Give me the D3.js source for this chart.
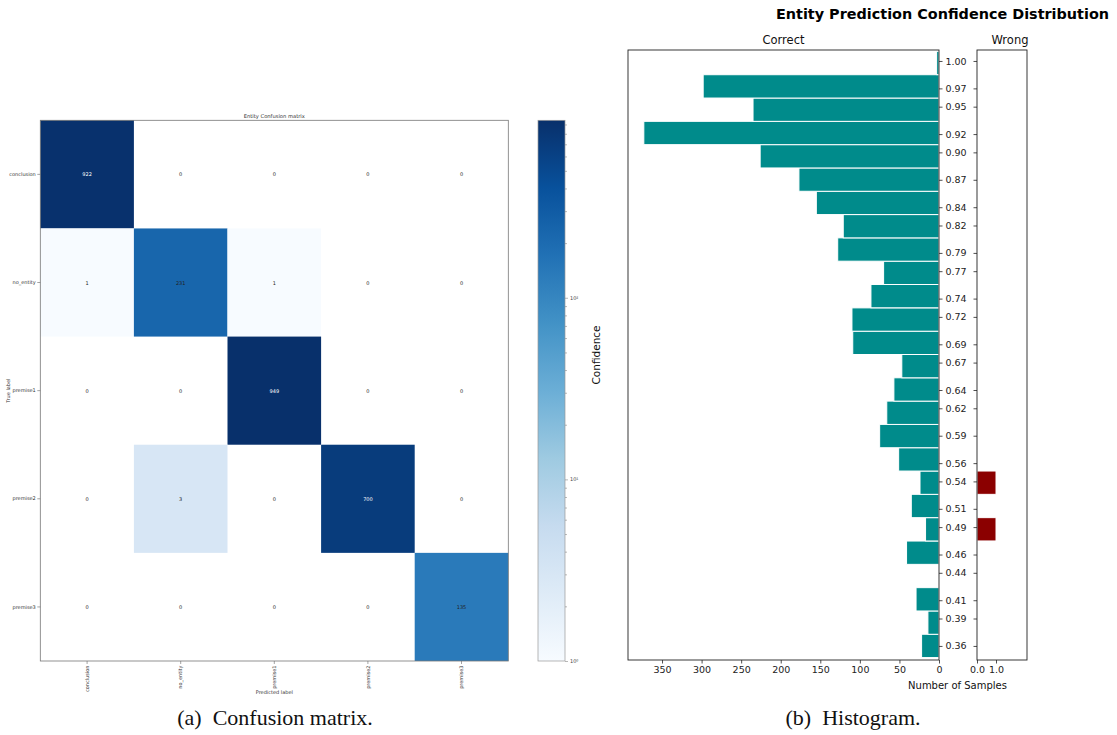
<!DOCTYPE html>
<html>
<head>
<meta charset="utf-8">
<script src="https://cdn.jsdelivr.net/npm/d3@7"></script>
<style>
  body { margin: 0; background: #fff; }
  svg { display: block; }
  text { font-family: "DejaVu Sans", sans-serif; }
  .caption { font-family: "Liberation Serif", "Times New Roman", serif; }
</style>
</head>
<body>
<svg id="chart" width="1117" height="735"></svg>
<script>
// ---------- data ----------
const classes = ["conclusion", "no_entity", "premise1", "premise2", "premise3"];
// rows = true label, columns = predicted label
const confusion = [
  [922, 0, 0, 0, 0],
  [1, 231, 1, 0, 0],
  [0, 0, 949, 0, 0],
  [0, 3, 0, 700, 0],
  [0, 0, 0, 0, 135]
];
const colorbarTicks = [1, 10, 100];
const colorbarTickLabels = ["10\u2070", "10\u00b9", "10\u00b2"];

// confidence histogram: bin centres (low to high) and counts per bin
const binCenters = [0.3600, 0.3855, 0.4110, 0.4365, 0.4620, 0.4876, 0.5131, 0.5386,
  0.5641, 0.5896, 0.6151, 0.6406, 0.6661, 0.6916, 0.7171, 0.7427, 0.7682, 0.7937,
  0.8192, 0.8447, 0.8702, 0.8957, 0.9212, 0.9467, 0.9722, 0.9978];
const binWidth = 0.02551;
const correctCounts = [22, 14, 29, 0, 41, 17, 35, 24, 51, 75, 66, 57, 47, 109, 110,
  86, 70, 128, 121, 155, 177, 226, 373, 235, 298, 3];
const wrongCounts = [0, 0, 0, 0, 0, 1, 0, 1, 0, 0, 0, 0, 0, 0, 0, 0, 0, 0, 0, 0, 0,
  0, 0, 0, 0, 0];
const correctTicks = [350, 300, 250, 200, 150, 100, 50, 0];
const wrongTicks = [0, 1];

const svg = d3.select("#chart");
svg.append("rect").attr("width", 1117).attr("height", 735).attr("fill", "#fff");

// matplotlib "Blues" colormap (linear segments between the 9 ColorBrewer stops)
const bluesStops = ["#f7fbff", "#deebf7", "#c6dbef", "#9ecae1", "#6baed6",
  "#4292c6", "#2171b5", "#08519c", "#08306b"];
const blues = d3.scaleLinear()
  .domain(d3.range(bluesStops.length).map(i => i / (bluesStops.length - 1)))
  .range(bluesStops)
  .interpolate(d3.interpolateRgb)
  .clamp(true);

// ================= confusion matrix =================
const cm = { left: 40.3, right: 508.3, top: 120.3, bottom: 661 };
const vmax = d3.max(confusion.flat());
const norm = d3.scaleLog().domain([1, vmax]).range([0, 1]).clamp(true);

const xCm = d3.scaleBand().domain(classes).range([cm.left, cm.right]);
const yCm = d3.scaleBand().domain(classes).range([cm.top, cm.bottom]);

const cells = [];
confusion.forEach((row, i) => row.forEach((v, j) => cells.push({ t: classes[i], p: classes[j], v })));

const gCm = svg.append("g");
gCm.selectAll("rect.cell").data(cells.filter(d => d.v > 0)).join("rect")
  .attr("class", "cell")
  .attr("x", d => xCm(d.p)).attr("y", d => yCm(d.t))
  .attr("width", xCm.bandwidth()).attr("height", yCm.bandwidth())
  .attr("fill", d => blues(norm(d.v)));

gCm.selectAll("text.val").data(cells).join("text")
  .attr("class", "val")
  .attr("x", d => xCm(d.p) + xCm.bandwidth() / 2)
  .attr("y", d => yCm(d.t) + yCm.bandwidth() / 2)
  .attr("text-anchor", "middle").attr("dominant-baseline", "central")
  .attr("font-size", 5)
  .attr("fill", d => d.v > vmax / 2 ? "#fff" : "#222")
  .text(d => d.v);

gCm.append("rect")
  .attr("x", cm.left).attr("y", cm.top)
  .attr("width", cm.right - cm.left).attr("height", cm.bottom - cm.top)
  .attr("fill", "none").attr("stroke", "#777").attr("stroke-width", 0.8);

const axCmY = gCm.append("g").attr("transform", `translate(${cm.left},0)`)
  .call(d3.axisLeft(yCm).tickSize(3).tickPadding(1.5));
const axCmX = gCm.append("g").attr("transform", `translate(0,${cm.bottom})`)
  .call(d3.axisBottom(xCm).tickSize(3).tickPadding(1.5));
[axCmY, axCmX].forEach(a => {
  a.select(".domain").remove();
  a.selectAll(".tick line").attr("stroke", "#666").attr("stroke-width", 0.6);
  a.selectAll(".tick text").attr("font-size", 5).attr("fill", "#333").attr("font-family", "DejaVu Sans");
});
axCmX.selectAll(".tick text")
  .attr("transform", "rotate(-90)")
  .attr("text-anchor", "end")
  .attr("x", -4.5).attr("y", 0).attr("dy", "0.32em");

gCm.append("text").attr("x", (cm.left + cm.right) / 2).attr("y", 117.5)
  .attr("text-anchor", "middle").attr("font-size", 5.2).attr("fill", "#333")
  .text("Entity Confusion matrix");
gCm.append("text").attr("x", (cm.left + cm.right) / 2).attr("y", 694)
  .attr("text-anchor", "middle").attr("font-size", 5).attr("fill", "#333")
  .text("Predicted label");
gCm.append("text")
  .attr("transform", `translate(10,${(cm.top + cm.bottom) / 2}) rotate(-90)`)
  .attr("text-anchor", "middle").attr("font-size", 5).attr("fill", "#333")
  .text("True label");

// colorbar
const cb = { left: 538, right: 565 };
const yCb = d3.scaleLog().domain([1, vmax]).range([cm.bottom, cm.top]);
const grad = svg.append("defs").append("linearGradient")
  .attr("id", "bluesGrad").attr("x1", 0).attr("y1", 1).attr("x2", 0).attr("y2", 0);
grad.selectAll("stop").data(bluesStops).join("stop")
  .attr("offset", (d, i) => i / (bluesStops.length - 1))
  .attr("stop-color", d => d);
svg.append("rect")
  .attr("x", cb.left).attr("y", cm.top)
  .attr("width", cb.right - cb.left).attr("height", cm.bottom - cm.top)
  .attr("fill", "url(#bluesGrad)")
  .attr("stroke", "#999").attr("stroke-width", 0.7);

const minorTicks = [];
[1, 10, 100].forEach(base => d3.range(2, 10).forEach(k => { if (base * k < vmax) minorTicks.push(base * k); }));
const axCbMinor = svg.append("g").attr("transform", `translate(${cb.right},0)`)
  .call(d3.axisRight(yCb).tickValues(minorTicks).tickSize(2).tickFormat(""));
const axCb = svg.append("g").attr("transform", `translate(${cb.right},0)`)
  .call(d3.axisRight(yCb).tickValues(colorbarTicks).tickSize(3).tickPadding(2)
    .tickFormat((d, i) => colorbarTickLabels[i]));
[axCbMinor, axCb].forEach(a => {
  a.select(".domain").remove();
  a.selectAll(".tick line").attr("stroke", "#888").attr("stroke-width", 0.6);
  a.selectAll(".tick text").attr("font-size", 5).attr("fill", "#444").attr("font-family", "DejaVu Sans");
});

// ================= confidence histogram =================
const h = { left: 628, right: 939, top: 50, bottom: 660, wLeft: 977, wRight: 1027 };
const yConf = d3.scaleLinear().domain([0.3446, 1.012]).range([h.bottom, h.top]);
const xCorrect = d3.scaleLinear().domain([0, 393]).range([h.right, h.left]);
const xWrong = d3.scaleLinear().domain([0, 2.63]).range([h.wLeft, h.wRight]);

const bins = binCenters.map((c, i) => ({ c, correct: correctCounts[i], wrong: wrongCounts[i] }));
const gH = svg.append("g");

gH.selectAll("rect.correct").data(bins.filter(d => d.correct > 0)).join("rect")
  .attr("class", "correct")
  .attr("x", d => xCorrect(d.correct))
  .attr("y", d => yConf(d.c + binWidth / 2))
  .attr("width", d => xCorrect(0) - xCorrect(d.correct))
  .attr("height", d => yConf(d.c - binWidth / 2) - yConf(d.c + binWidth / 2))
  .attr("fill", "#008b8b").attr("stroke", "#fff").attr("stroke-width", 1);

gH.selectAll("rect.wrong").data(bins.filter(d => d.wrong > 0)).join("rect")
  .attr("class", "wrong")
  .attr("x", xWrong(0))
  .attr("y", d => yConf(d.c + binWidth / 2))
  .attr("width", d => xWrong(d.wrong) - xWrong(0))
  .attr("height", d => yConf(d.c - binWidth / 2) - yConf(d.c + binWidth / 2))
  .attr("fill", "#8b0000").attr("stroke", "#fff").attr("stroke-width", 1);

const confTicks = binCenters.map(c => +c.toFixed(2));
const fmt2 = d3.format(".2f");

const axYCorrect = gH.append("g").attr("transform", `translate(${h.right},0)`)
  .call(d3.axisRight(yConf).tickValues(confTicks).tickFormat(fmt2).tickSize(3.5).tickPadding(3));
const axYWrong = gH.append("g").attr("transform", `translate(${h.wLeft},0)`)
  .call(d3.axisLeft(yConf).tickValues(confTicks).tickFormat("").tickSize(3.5));
const axXCorrect = gH.append("g").attr("transform", `translate(0,${h.bottom})`)
  .call(d3.axisBottom(xCorrect).tickValues(correctTicks).tickSize(3.5).tickPadding(3));
const axXWrong = gH.append("g").attr("transform", `translate(0,${h.bottom})`)
  .call(d3.axisBottom(xWrong).tickValues(wrongTicks).tickFormat(d3.format(".1f")).tickSize(3.5).tickPadding(3));
[axYCorrect, axYWrong, axXCorrect, axXWrong].forEach(a => {
  a.select(".domain").remove();
  a.selectAll(".tick line").attr("stroke", "#222").attr("stroke-width", 0.8);
  a.selectAll(".tick text").attr("font-size", 9.5).attr("fill", "#222").attr("font-family", "DejaVu Sans");
});

// axes frames
gH.append("rect").attr("x", h.left).attr("y", h.top)
  .attr("width", h.right - h.left).attr("height", h.bottom - h.top)
  .attr("fill", "none").attr("stroke", "#222").attr("stroke-width", 0.9);
gH.append("rect").attr("x", h.wLeft).attr("y", h.top)
  .attr("width", h.wRight - h.wLeft).attr("height", h.bottom - h.top)
  .attr("fill", "none").attr("stroke", "#222").attr("stroke-width", 0.9);

gH.append("text").attr("x", (h.left + h.right) / 2).attr("y", 44)
  .attr("text-anchor", "middle").attr("font-size", 11.5).attr("fill", "#111").text("Correct");
gH.append("text").attr("x", 1010).attr("y", 44)
  .attr("text-anchor", "middle").attr("font-size", 11.5).attr("fill", "#111").text("Wrong");
gH.append("text").attr("x", 942.5).attr("y", 19)
  .attr("text-anchor", "middle").attr("font-size", 14.4).attr("font-weight", "bold")
  .attr("fill", "#000").text("Entity Prediction Confidence Distribution");
gH.append("text").attr("x", 957.5).attr("y", 689)
  .attr("text-anchor", "middle").attr("font-size", 10).attr("fill", "#111").text("Number of Samples");
gH.append("text")
  .attr("transform", `translate(600,${(h.top + h.bottom) / 2}) rotate(-90)`)
  .attr("text-anchor", "middle").attr("font-size", 10.5).attr("fill", "#111").text("Confidence");

// ================= captions =================
svg.append("text").attr("class", "caption").attr("x", 275).attr("y", 725)
  .attr("text-anchor", "middle").attr("font-size", 22).attr("fill", "#111")
  .text("(a)\u2002Confusion matrix.");
svg.append("text").attr("class", "caption").attr("x", 853).attr("y", 725)
  .attr("text-anchor", "middle").attr("font-size", 22).attr("fill", "#111")
  .text("(b)\u2002Histogram.");
</script>
</body>
</html>
